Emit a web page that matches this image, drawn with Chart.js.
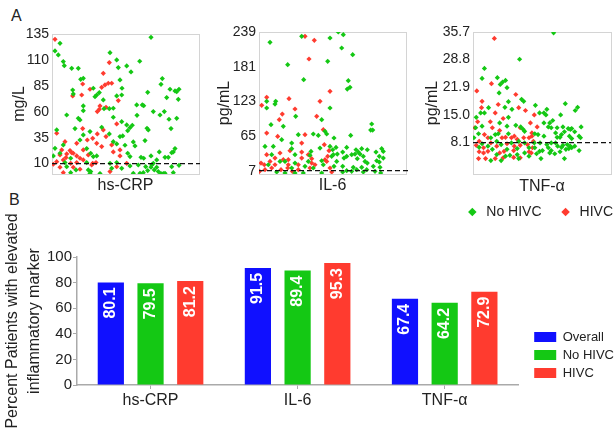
<!DOCTYPE html>
<html>
<head>
<meta charset="utf-8">
<script src="https://cdn.jsdelivr.net/npm/chart.js@4.4.1/dist/chart.umd.min.js"></script>
<style>
  html, body { margin: 0; padding: 0; background: #fff; overflow: hidden; }
  #wrap { position: relative; width: 615px; height: 436px; }
  canvas { position: absolute; }
  .tag { position: absolute; font: 16px 'Liberation Sans', Arial, sans-serif; color: #222; }
</style>
</head>
<body>
<div id="wrap">
  <div class="tag" style="left:11px;top:7px">A</div>
  <div class="tag" style="left:9px;top:191px">B</div>
  <canvas id="crpChart" width="205" height="200" style="left:0;top:0"></canvas>
  <canvas id="il6Chart" width="205" height="200" style="left:205px;top:0"></canvas>
  <canvas id="tnfChart" width="205" height="229" style="left:410px;top:0"></canvas>
  <canvas id="barChart" width="615" height="246" style="left:0;top:190px"></canvas>
</div>
<script>
// panel A: [jitter position, level]
const crpNoHivc = [[8,126],[3,118.7],[6.3,114.8],[11.3,108.4],[12.3,104.5],[19.7,101.9],[26.3,101.9],[58,117],[64.7,110],[66.3,102.6],[28.7,91.3],[31.3,92.3],[68,90.7],[70,82.7],[20.7,81],[21.3,77.2],[41.3,82.7],[47.3,78.5],[44.7,76.2],[64.7,75.3],[69.7,76.2],[43,74.6],[51.3,71.4],[31.3,65.6],[31.3,61.1],[52,63],[57.3,63],[61.3,63.4],[14.7,56.9],[26.3,53.7],[28,52.1],[61.3,54.7],[69.7,50.5],[74.7,47.3],[4.7,42.5],[23,43.8],[49.7,45.1],[38,40.9],[31.3,37.7],[57.3,38.6],[28,32.8],[68,36.1],[70.7,36.7],[11.3,28],[61.3,31.2],[64.7,29],[3,24.8],[34.7,24.5],[8,20],[38.7,20],[1.3,17.4],[41.3,16.8],[44.7,17.4],[18.7,15.2],[13,11],[34.7,11],[58,10.3],[64.7,11],[14.7,7.1],[36.3,3.9],[38.7,2.3],[59.7,5.5],[69.7,5.5],[18.7,1.3],[24,3.9],[38,0.7],[48,0.5],
  [99,131.8],[74.7,104.2],[87.7,108.7],[79,98.4],[110.3,92],[109,86.5],[95.7,78.8],[118,81.7],[123,80.1],[127,81.7],[124.7,79.4],[114.7,73.7],[126.3,72],[84.7,66.6],[90.3,66.6],[91.7,65.9],[101.3,60.2],[112.3,60.2],[108,56.9],[85,56.6],[117,52.8],[124.7,53.7],[80.3,47],[78,44.7],[75.7,41.8],[95,44.1],[96.3,42.5],[119,43.8],[93,32.2],[81.3,30.9],[83,27.1],[73,27.7],[107.3,21.3],[123,24.5],[121.3,21.3],[119.7,20.6],[75.7,20],[78,16.8],[89,16.1],[91.7,15.2],[99,17.4],[104.7,13.6],[113,16.1],[116.3,16.1],[101.3,10.3],[86.3,8.7],[78,7.8],[93.7,7.1],[99.7,8.7],[104.7,6.5],[119.7,7.1],[127,8.4],[95.7,3.3],[102.3,3.9],[81.3,0.7],[88,0.7],[91.3,1.3],[109,0.5],[111.3,0.5],[113,0.7],[121.3,1.3],[99,6.5],[106.3,2.3]];
const crpHivc = [[3,129.9],[57.3,107.4],[51.3,97.1],[30.7,86.8],[56.3,87.5],[59.7,87.5],[53,85.9],[20.7,75.3],[38,81.7],[49.7,83.6],[29.7,76.2],[66.3,70.8],[47.3,62.4],[45.3,60.2],[54,64.3],[48,65.6],[64.7,48.3],[30.7,43.8],[51.3,42.5],[4.7,39.3],[45.3,38.6],[40.7,34.4],[35.3,32.8],[54,36.1],[13,31.2],[24.7,29.6],[44.7,29.6],[59.7,28],[49.7,26.4],[9.7,23.2],[18,22.6],[19.7,20.6],[21.3,20],[31.3,23.2],[36.3,18.4],[61.3,21.3],[68,23.2],[14.7,19.4],[8,18.4],[14,15.8],[24.7,17.4],[28,15.2],[31.3,13.6],[68,17.4],[11.3,13.6],[4.7,11.9],[18.7,10.3],[24.7,11],[40.7,10.3],[44,11],[74.7,10.3],[1.3,9.4],[8,6.5],[21.3,6.5],[39.7,8.7],[28,4.6],[64.7,7.1],[11.3,1.3],[58,2.3]];

const il6NoHivc = [[11,221.7],[42.7,231.8],[28.7,184.4],[68.7,189.9],[71,229],[44.7,159.3],[7.7,123],[16.7,123],[16,118.5],[7.7,111.9],[71,111.9],[36.7,97.9],[24.3,81.2],[12,84],[62.7,92.3],[39.3,67.2],[32.7,53.3],[22.7,58.9],[54.3,68.4],[59.3,66.1],[67.7,68.4],[66,72.8],[6,47.7],[14.3,47.7],[32.7,43.8],[52,39.3],[61,44.9],[71,47.7],[12.7,33.8],[36,33.8],[51,32.7],[72.7,31],[21,22.6],[26,22.6],[36,19.8],[49.3,22.6],[62.7,23.7],[9.3,17],[32.7,11.5],[46,14.3],[54.3,11.5],[64.3,17],[26,3.1],[36,3.1],[44.3,3.1],[62.7,3.1],[17.7,4.8],
  [79.3,239],[84.3,234.5],[82.7,212.2],[93.7,201.1],[89.3,157.6],[91,146.4],[88.3,143.6],[112.7,85.1],[111.7,75],[113.7,75],[75,61.7],[91.7,66.1],[77,46],[73.7,42.1],[87.7,46],[97,42.1],[99.3,38.2],[102.7,43.8],[108.3,42.1],[122.7,43.8],[124.3,39.3],[83.7,38.2],[78.3,34.9],[85,28.2],[92.7,33.8],[96,34.9],[101,34.9],[104.3,31],[117,38.2],[120.3,31],[124.3,28.2],[74.3,33.8],[87.7,31],[77.7,22.6],[98.3,27.1],[106,22.6],[108.3,19.8],[117.7,23.7],[120.3,21.5],[83.7,14.3],[94.3,12.6],[102.7,12.6],[114.3,14.3],[121,12.6],[75,14.3],[87.7,7],[92.7,5.9],[97.7,8.7],[104.3,4.8],[107.7,8.7],[116,5.9],[121.7,3.1],[83.7,4.8]];
const il6Hivc = [[46,231.8],[55.3,225.1],[50,193.8],[2.7,116.3],[7.7,129.7],[30,127.5],[71,139.7],[61,123],[23.3,101.8],[36,110.2],[20.3,92.3],[57.7,97.9],[7.7,70],[18.7,64.4],[46,67.2],[64.3,75.6],[42.7,53.3],[31,40.5],[21,36.6],[42.7,38.2],[65.3,50.5],[70,40.5],[68.7,31],[7.7,33.8],[2,19.8],[5.3,17],[16,28.2],[11,22.6],[24.3,25.4],[29.3,25.4],[42.7,28.2],[49.3,33.8],[52.7,27.1],[66,25.4],[16,17],[29.3,17],[39.3,17],[52.7,19.8],[56,17],[67.7,22.6],[6,8.7],[22,8.7],[28.7,11.5],[39.3,8.7],[51,11.5],[71,11.5],[12.7,11.5],[0.5,5.9],[72.7,4.8],[33.3,5.9]];

const tnfNoHivc = [[13,26.6],[10.3,24.1],[27.7,24.3],[31,22.6],[33.7,23.2],[37,23.6],[38.7,21.8],[29.7,20.5],[53,28.9],[40.3,18.3],[36.3,16.9],[17.7,16.8],[8.7,15.5],[3.7,14.4],[13,15.5],[44.3,16.4],[40.3,14.4],[55.3,18.9],[57.7,18.4],[71,17.4],[3,11.8],[6.3,10.3],[10.3,12.2],[30.3,13],[38.7,12.2],[48.7,12.4],[54.3,12],[57,11.4],[25.3,10.1],[28.7,10.3],[40.3,10.3],[58.7,10.9],[70.3,10.3],[1,9.3],[10.3,7.8],[20.3,9.3],[27,8.4],[32,7.6],[43.7,8],[52,8.4],[58.7,8],[69.7,8],[7,6.9],[17,7.2],[22,6.4],[38.7,6.4],[50.3,6.6],[63.7,6.8],[70.3,6.8],[27,5.1],[37,4.7],[50.3,5.1],[58.7,5.5],[63.7,4.7],[20.3,3.6],[32,3.6],[42,4.9],[52,4.1],
  [91.7,35.5],[75.7,15.5],[80.7,15.5],[84,16.4],[83,15],[105,17.8],[119,16.9],[116.3,16.1],[99.7,15],[90.7,13.6],[80.7,13],[87.3,13],[85.7,12],[89,11.8],[95.7,11.8],[102.3,12],[112.3,11.6],[123,12],[94,10.5],[100.7,10.1],[108.3,11.6],[110.7,11.4],[104,10.8],[115.7,10.8],[120.7,9.7],[122.3,9.3],[74,10.1],[80.7,9.7],[95.7,9.4],[99,9.4],[109.7,9.7],[112.3,9.1],[76.3,8],[84,7.6],[89,8],[94,8],[102.3,7.4],[107.3,7.6],[110.7,7.2],[115.7,7.2],[75.7,5.9],[79,6.1],[85.7,6.8],[89,6.1],[96.3,7.2],[100.7,6.9],[105.7,6.4],[109,6.6],[112.3,6.8],[120.7,6.1],[72.3,5.3],[87.3,5.5],[93,5.3],[99,5.8],[77.3,4.1],[104,4.1]];
const tnfHivc = [[24.3,34.1],[4.3,21],[21,22.8],[10.3,18.4],[9.7,16.8],[25.3,15.5],[28.7,17.6],[48.7,20.1],[52,16.8],[59.7,16.1],[34.3,14.1],[69.7,15],[19.7,13.3],[22,11.8],[5.3,13.3],[2,11.8],[13,10.1],[17,9.3],[30.3,11.1],[53.7,11.8],[65.3,13],[67,10.5],[7,8.4],[20.3,8],[33,9.3],[37,9.4],[43.7,9.3],[47,9.7],[50.3,8.9],[57.7,9.3],[63.7,9.3],[67,9.7],[68.7,8.4],[3.7,7.4],[12,6.8],[27,7.2],[38.7,7.8],[47,7.2],[53.7,7.4],[62,7.6],[7,5.8],[12,5.5],[17,5.9],[30.3,5.5],[35.3,5.9],[46.3,6.1],[63.7,5.8],[67.7,6.8],[6.3,4.1],[14.3,4.1],[25.3,4.1],[34.3,4.3],[46.3,4.4],[53.7,4.3],[66.3,5.5],[73,12]];

const crpTicks = [10, 35, 60, 85, 110, 135];
const il6Ticks = [7, 65, 123, 181, 239];
const tnfTicks = [8.1, 15.0, 21.9, 28.8, 35.7];

// panel B
const markers = ['hs-CRP', 'IL-6', 'TNF-α'];
const overallPct = [80.1, 91.5, 67.4];
const noHivcPct = [79.5, 89.4, 64.2];
const hivcPct = [81.2, 95.3, 72.9];

const FONT = "'Liberation Sans', Arial, sans-serif";
const TXT = '#222';
const GREEN = '#14c814';
const RED = '#ff3b2f';
const BLUE = '#1010ff';

const toPoints = arr => arr.map(([x, y]) => ({x, y}));

// grey box round the plot area + dashed cut-off line
const frameLines = {
  id: 'frameLines',
  beforeDatasetsDraw(chart) {
    const {ctx, chartArea: a} = chart;
    ctx.save();
    ctx.strokeStyle = '#d4d4d4';
    ctx.lineWidth = 1;
    ctx.strokeRect(a.left + 0.5, a.top + 0.5, a.width, a.height);
    ctx.restore();
  },
  afterDatasetsDraw(chart, args, opts) {
    const {ctx, chartArea: a} = chart;
    const y = chart.scales.y.getPixelForValue(opts.ref);
    ctx.save();
    ctx.setLineDash([5, 3]);
    ctx.strokeStyle = '#111';
    ctx.lineWidth = 1.2;
    ctx.beginPath();
    ctx.moveTo(a.left, y);
    ctx.lineTo(a.right + opts.extend, y);
    ctx.stroke();
    ctx.restore();
  }
};

function makeScatter(id, c) {
  return new Chart(document.getElementById(id), {
    type: 'scatter',
    data: {
      datasets: [
        {label: 'No HIVC', data: toPoints(c.noHivc), backgroundColor: GREEN, borderColor: GREEN},
        {label: 'HIVC', data: toPoints(c.hivc), backgroundColor: RED, borderColor: RED}
      ]
    },
    options: {
      responsive: false,
      animation: false,
      events: [],
      elements: {point: {pointStyle: 'rectRot', radius: 2.6, borderWidth: 0}},
      layout: {padding: c.padding},
      plugins: {
        legend: c.legend || {display: false},
        tooltip: {enabled: false},
        frameLines: {ref: c.ref, extend: c.extend}
      },
      scales: {
        x: {
          type: 'linear', min: 0, max: c.span,
          ticks: {display: false},
          grid: {display: false},
          border: {display: false},
          title: {display: true, text: c.name, color: TXT, font: {family: FONT, size: 16}, padding: {top: 0, bottom: c.namePad}},
          afterFit: s => { s.height = c.xHeight; }
        },
        y: {
          min: c.min, max: c.max,
          afterBuildTicks: s => { s.ticks = c.ticks.map(v => ({value: v})); },
          ticks: {color: TXT, padding: 3, font: {family: FONT, size: 14}, callback: v => v.toFixed(c.dec)},
          grid: {display: false, drawTicks: false},
          border: {display: false},
          title: {display: true, text: c.unit, color: TXT, font: {family: FONT, size: 16}, padding: {top: c.unitPad, bottom: 0}},
          afterFit: s => { s.width = c.yWidth; }
        }
      }
    },
    plugins: [frameLines]
  });
}

makeScatter('crpChart', {
  noHivc: crpNoHivc, hivc: crpHivc, ticks: crpTicks, dec: 0,
  name: 'hs-CRP', unit: 'mg/L', min: 0, max: 135, ref: 10, extend: 1, span: 147,
  padding: {top: 34, right: 6, bottom: 0, left: 0},
  xHeight: 26, namePad: 5, yWidth: 52, unitPad: 10
});

makeScatter('il6Chart', {
  noHivc: il6NoHivc, hivc: il6Hivc, ticks: il6Ticks, dec: 0,
  name: 'IL-6', unit: 'pg/mL', min: 1.5, max: 239, ref: 7, extend: 4, span: 147,
  padding: {top: 32, right: 4, bottom: 0, left: 0},
  xHeight: 26, namePad: 5, yWidth: 54, unitPad: 10
});

makeScatter('tnfChart', {
  noHivc: tnfNoHivc, hivc: tnfHivc, ticks: tnfTicks, dec: 1,
  name: 'TNF-α', unit: 'pg/mL', min: 0.25, max: 35.7, ref: 8.1, extend: 0, span: 157,
  padding: {top: 32, right: -15, bottom: 0, left: 0},
  xHeight: 14, namePad: -8, yWidth: 63, unitPad: 13,
  legend: {
    display: true, position: 'bottom', align: 'end',
    labels: {usePointStyle: true, boxHeight: 6, padding: 17, color: TXT, font: {family: FONT, size: 14}}
  }
});

// white rotated values near the top of each bar
const barValues = {
  id: 'barValues',
  afterDatasetsDraw(chart) {
    const {ctx} = chart;
    ctx.save();
    ctx.fillStyle = '#fff';
    ctx.font = 'bold 16px ' + FONT;
    ctx.textAlign = 'right';
    ctx.textBaseline = 'middle';
    chart.data.datasets.forEach((ds, i) => {
      chart.getDatasetMeta(i).data.forEach((bar, j) => {
        ctx.save();
        ctx.translate(bar.x, bar.y + 5);
        ctx.rotate(-Math.PI / 2);
        ctx.fillText(ds.data[j].toFixed(1), 0, 0);
        ctx.restore();
      });
    });
    ctx.restore();
  }
};

new Chart(document.getElementById('barChart'), {
  type: 'bar',
  data: {
    labels: markers,
    datasets: [
      {label: 'Overall', data: overallPct, backgroundColor: BLUE},
      {label: 'No HIVC', data: noHivcPct, backgroundColor: GREEN},
      {label: 'HIVC', data: hivcPct, backgroundColor: RED}
    ]
  },
  options: {
    responsive: false,
    animation: false,
    events: [],
    datasets: {bar: {barPercentage: 0.66, categoryPercentage: 0.81}},
    layout: {padding: {top: 67, right: -9, bottom: -17, left: 0}},
    plugins: {
      legend: {
        position: 'right',
        labels: {boxWidth: 22, boxHeight: 10, padding: 5, color: TXT, font: {family: FONT, size: 13}}
      },
      tooltip: {enabled: false}
    },
    scales: {
      x: {
        grid: {drawOnChartArea: false, offset: false, tickLength: 4, color: '#aaa'},
        border: {color: '#aaa', width: 1.5},
        ticks: {color: TXT, padding: 2, font: {family: FONT, size: 16}},
        afterFit: s => { s.height = 68; }
      },
      y: {
        min: 0, max: 100,
        ticks: {stepSize: 20, color: TXT, padding: 1, font: {family: FONT, size: 15}},
        grid: {drawOnChartArea: false, tickLength: 4, color: '#aaa'},
        border: {color: '#aaa', width: 1.5},
        title: {
          display: true,
          text: ['Percent Patients with elevated', 'inflammatory marker'],
          color: TXT,
          font: {family: FONT, size: 16, lineHeight: 1.35},
          padding: {top: 2, bottom: 0}
        },
        afterFit: s => { s.width = 77; }
      },
      spacer: {
        type: 'linear', axis: 'y', position: 'right',
        ticks: {display: false}, grid: {display: false}, border: {display: false},
        afterFit: s => { s.width = 11; }
      }
    }
  },
  plugins: [barValues]
});
</script>
</body>
</html>
